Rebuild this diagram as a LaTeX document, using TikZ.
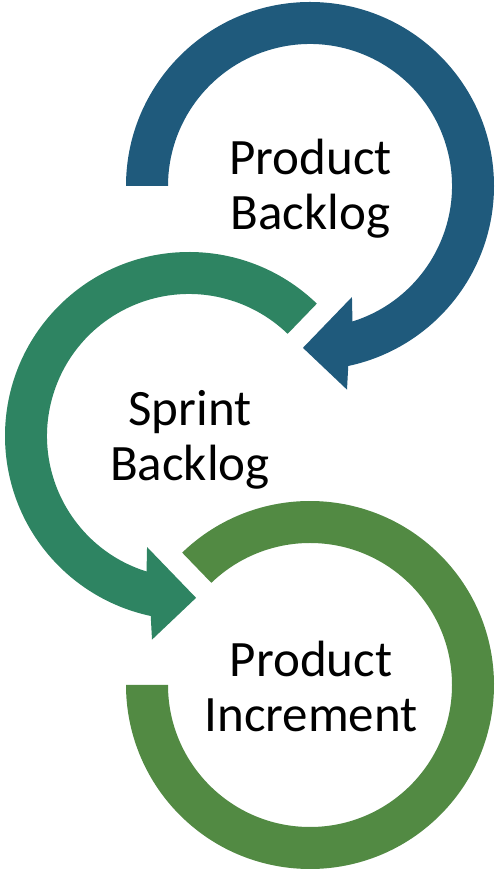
\documentclass[tikz,border=0pt]{standalone}
\usepackage{fontspec}
\setmainfont{Carlito}
\usetikzlibrary{calc, positioning}
\definecolor{pbblue}{HTML}{1F5A7C}
\definecolor{sbteal}{HTML}{2E8462}
\definecolor{pigreen}{HTML}{528A43}

\begin{document}
\begin{tikzpicture}[x=1pt, y=1pt,
                    circletext/.style={align=center, font=\fontsize{51}{55}\selectfont, inner sep=0pt}]
                    \useasboundingbox (0, 0) rectangle (497, 873);

                    \coordinate (pb) at (310, 687);
                    \coordinate (sb) at (189, 437);
                    \coordinate (pi) at (310, 188);

                    \fill[pbblue]
                    ($(pb) + (180:184)$) arc[start angle=180, end angle=-78, radius=184]
                    -- ($(pb) + (-79.7:207)$) -- ($(pb) + (-92.5:162)$) -- ($(pb) + (-69.3:118.7)$)
                    -- ($(pb) + (-72.6:142)$) arc[start angle=-72.6, end angle=180, radius=142] -- cycle;

                    \fill[sbteal]
                    ($(sb) + (46:184)$) arc[start angle=46, end angle=258, radius=184]
                    -- ($(sb) + (259.7:207)$) -- ($(sb) + (272.5:162)$) -- ($(sb) + (249.3:118.7)$)
                    -- ($(sb) + (252.6:142)$) arc[start angle=252.6, end angle=46, radius=142] -- cycle;

                    \fill[pigreen]
                    ($(pi) + (134:184)$) arc[start angle=134, end angle=-180, radius=184]
                    -- ($(pi) + (-180:142)$) arc[start angle=-180, end angle=134, radius=142] -- cycle;

                    \node[circletext] (pbtext) at ($(pb) + (0.5, -2.5)$) {Product\\Backlog};
                    \node[circletext] (sbtext) at ($(sb) + (1, -4)$) {Sprint\\Backlog};
                    \node[circletext] (pitext) at ($(pi) + (1, -1)$) {Product\\Increment};
                \end{tikzpicture}
\end{document}
